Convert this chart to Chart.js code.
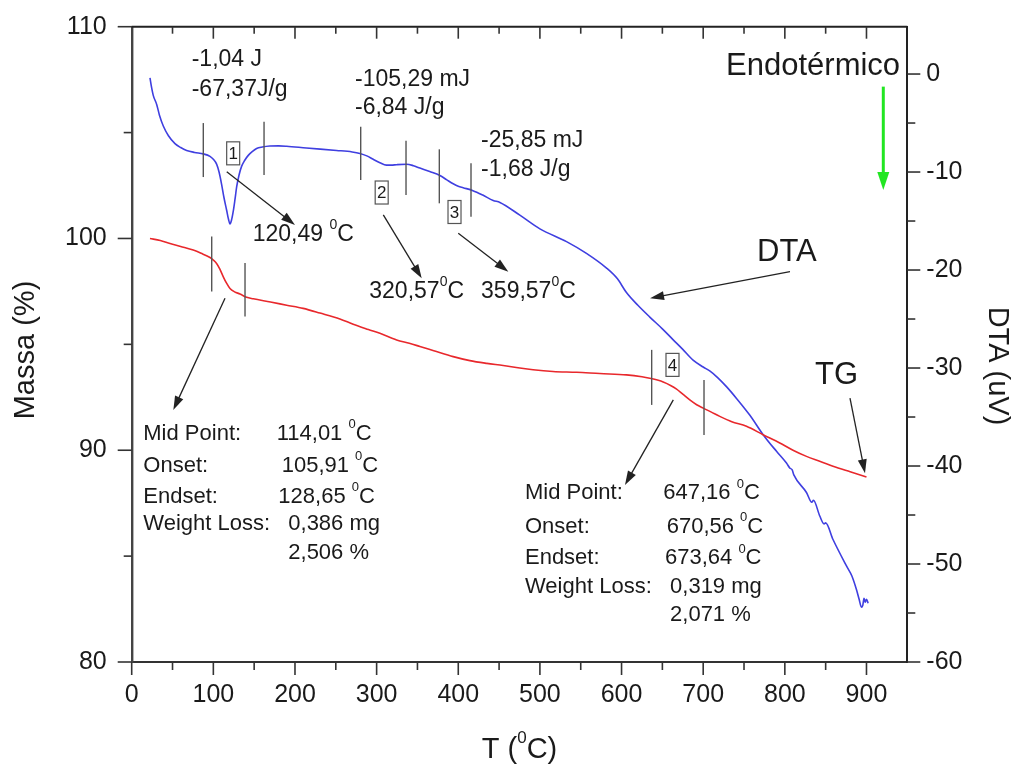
<!DOCTYPE html>
<html><head><meta charset="utf-8">
<script src="https://cdn.jsdelivr.net/npm/chart.js@4.4.1/dist/chart.umd.min.js"></script>
<style>html,body{margin:0;padding:0;background:#fff;}canvas{display:block;}</style>
</head><body>
<canvas id="c" width="1013" height="769"></canvas>
<script>
// ---- data ----
const xTicks = [0,100,200,300,400,500,600,700,800,900];
const massTicks = [80,90,100,110];
const dtaTicks = [-60,-50,-40,-30,-20,-10,0];

const dtaTemp = [22.4,24,26.5,30.6,34,38.7,45,53,60,67.3,77,87.7,95.9,100,104,107,110,113,116.3,118.5,120.4,122.3,124.4,126.5,128.6,131.5,134.7,138.5,142.8,148,153,160,169.3,180,189.8,214,251,270,279.5,288,295.8,304,312,318,324.5,336.7,345,353,365,377.5,386,393.8,400,406,418,430,442.8,451,475.4,500,532.6,557,581.6,595,606,620,634.6,650,663,675,687.6,700,708,718,728.5,740.8,757,773.4,789.8,802,806,809,811,826.5,833,835,842.8,848,850,859,875.5,882,887.7,891,893.8,895.5,897,898.5,900,902];
const dtaSignal = [-0.4,-1.2,-2.2,-3.1,-4.2,-5.3,-6.3,-7.1,-7.5,-7.8,-8.0,-8.15,-8.4,-8.7,-9.2,-10.0,-11.2,-12.6,-13.9,-14.8,-15.3,-14.9,-14.0,-12.8,-11.5,-10.3,-9.4,-8.8,-8.3,-7.9,-7.6,-7.45,-7.35,-7.33,-7.37,-7.55,-7.8,-7.95,-8.1,-8.35,-8.7,-9.05,-9.3,-9.3,-9.25,-9.2,-9.35,-9.6,-9.95,-10.35,-10.8,-11.2,-11.45,-11.6,-11.9,-12.35,-12.9,-13.1,-14.4,-15.8,-17.1,-18.3,-19.8,-20.9,-22.3,-23.6,-24.8,-26.0,-27.1,-28.1,-29.2,-29.9,-30.3,-31.0,-31.9,-33.1,-34.8,-36.8,-38.5,-39.7,-40.2,-40.4,-40.9,-42.7,-43.7,-43.5,-45.1,-45.9,-45.8,-47.5,-50.2,-51.2,-52.6,-53.6,-54.4,-54.2,-53.5,-53.9,-53.6,-54.0];

const tgTemp = [22.4,35,46.9,60,75.4,85,95.9,100,104,108,112.2,116,120.4,126,132.6,140.8,148.9,170,189.8,210,230.6,255,271.3,290,304,324.5,340,353,370,393.8,414.2,435,455,475.4,491.7,516,545,573.4,606,625,634.6,645,651,660,667,675,683.6,692,700,710,720.3,735,753,773.4,793.8,810,826.5,845,859,880,900];
const tgMass = [100.0,99.9,99.76,99.62,99.45,99.3,99.1,98.98,98.82,98.55,98.19,97.9,97.64,97.48,97.38,97.22,97.15,97.0,96.85,96.7,96.48,96.2,95.95,95.7,95.52,95.21,95.05,94.9,94.7,94.42,94.23,94.1,94.0,93.88,93.8,93.72,93.68,93.62,93.56,93.47,93.4,93.3,93.22,93.06,92.9,92.65,92.38,92.15,91.99,91.8,91.6,91.35,91.13,90.73,90.34,90.0,89.71,89.45,89.24,88.98,88.74];

// ---- annotations (data coordinates: T, Massa) ----
const smallTexts = [
  ['-1,04 J',73.5,108.43],['-67,37J/g',73.5,107.01],
  ['-105,29 mJ',273.5,107.48],['-6,84 J/g',273.5,106.16],
  ['-25,85 mJ',427.9,104.6],['-1,68 J/g',427.9,103.23],
  ['120,49 ^0C',148.2,100.17],['320,57^0C',291.0,97.47],['359,57^0C',427.9,97.47]
];
const bigTexts = [['Endotérmico',728.0,108.14],['DTA',765.9,99.34],['TG',837.0,93.52]];
const blockTexts = [
  ['Mid Point:',14.2,90.77],['Onset:',14.2,89.26],['Endset:',14.2,87.79],['Weight Loss:',14.2,86.52],
  ['114,01 ^0C',177.6,90.77],['105,91 ^0C',183.7,89.26],['128,65 ^0C',179.6,87.79],['0,386 mg',191.8,86.52],['2,506 %',191.8,85.15],
  ['Mid Point:',481.7,87.97],['Onset:',481.7,86.39],['Endset:',481.7,84.90],['Weight Loss:',481.7,83.56],
  ['647,16 ^0C',651.1,87.97],['670,56 ^0C',655.3,86.39],['673,64 ^0C',653.2,84.90],['0,319 mg',659.4,83.56],['2,071 %',659.4,82.22]
];
const boxes = [['1',124.3,104.02],['2',306.2,102.17],['3',395.4,101.25],['4',662.4,94.03]];
const markers = [[87.7,105.45,102.90],[162.1,105.51,103.00],[280.5,105.28,102.76],[336.0,104.62,102.05],[376.8,104.21,101.66],[415.6,103.55,101.03],[98.0,100.09,97.49],[138.8,98.84,96.31],[636.9,94.74,92.14],[701.0,93.32,90.72]];
const arrows = [[116.4,103.15,200.0,100.64],[308.2,101.11,355.2,98.12],[400.0,100.25,461.3,98.43],[114.3,97.18,50.95,91.90],[806.3,98.43,634.9,97.18],[879.8,92.46,898.2,88.91],[663.4,92.38,604.2,88.36]];
const greenArrow = [920.6,107.17,920.6,102.29];

// ---- drawing helpers ----
const FONT = "'Liberation Sans', Arial, Helvetica, sans-serif";
const TXT = '#1a1a1a';
function segs(str){const out=[];str.split('^0').forEach((p,i)=>{if(i>0)out.push({t:'0',sup:true});if(p)out.push({t:p,sup:false});});return out;}
function drawRich(ctx,str,x,y,size,align){
  const ss=segs(str);let w=0;
  ss.forEach(s=>{ctx.font=(s.sup?Math.round(size*0.6):size)+'px '+FONT;s.w=ctx.measureText(s.t).width;w+=s.w;});
  let cx=align==='center'?x-w/2:x;
  ctx.textAlign='left';ctx.textBaseline='middle';
  ss.forEach(s=>{ctx.font=(s.sup?Math.round(size*0.6):size)+'px '+FONT;ctx.fillText(s.t,cx,s.sup?y-size*0.42:y);cx+=s.w;});
}
function drawArrow(ctx,x1,y1,x2,y2,color,lw,hl,hw){
  const a=Math.atan2(y2-y1,x2-x1),c=Math.cos(a),s=Math.sin(a);
  ctx.strokeStyle=color;ctx.lineWidth=lw;ctx.beginPath();ctx.moveTo(x1,y1);ctx.lineTo(x2-c*hl*0.7,y2-s*hl*0.7);ctx.stroke();
  ctx.fillStyle=color;ctx.beginPath();ctx.moveTo(x2,y2);
  ctx.lineTo(x2-c*hl-s*hw/2,y2-s*hl+c*hw/2);ctx.lineTo(x2-c*hl+s*hw/2,y2-s*hl-c*hw/2);ctx.closePath();ctx.fill();
}

const decor = {
  id:'decor',
  afterDraw(chart){
    const ctx=chart.ctx, X=chart.scales.x, Y=chart.scales.y, Y1=chart.scales.y1, A=chart.chartArea;
    const px=v=>X.getPixelForValue(v), py=v=>Y.getPixelForValue(v);
    ctx.save();
    ctx.strokeStyle='#222';ctx.lineWidth=2;
    ctx.beginPath();ctx.moveTo(A.left,A.top);ctx.lineTo(A.right,A.top);ctx.stroke();
    ctx.lineWidth=1.6;ctx.strokeStyle='#333';
    for(let v=0;v<950;v+=50){const x=px(v),maj=v%100===0;
      ctx.beginPath();ctx.moveTo(x,A.bottom);ctx.lineTo(x,A.bottom+(maj?13:8));ctx.stroke();
      if(v>0){ctx.beginPath();ctx.moveTo(x,A.top);ctx.lineTo(x,A.top+(maj?12:7));ctx.stroke();}}
    for(let v=80;v<=110;v+=5){const y=py(v),maj=v%10===0;
      ctx.beginPath();ctx.moveTo(A.left-(maj?14:8),y);ctx.lineTo(A.left,y);ctx.stroke();}
    for(let v=-60;v<=0;v+=5){const y=Y1.getPixelForValue(v),maj=v%10===0;
      ctx.beginPath();ctx.moveTo(A.right,y);ctx.lineTo(A.right+(maj?13:8),y);ctx.stroke();}
    ctx.strokeStyle='#555';ctx.lineWidth=1.4;
    markers.forEach(m=>{ctx.beginPath();ctx.moveTo(px(m[0]),py(m[1]));ctx.lineTo(px(m[0]),py(m[2]));ctx.stroke();});
    arrows.forEach(a=>drawArrow(ctx,px(a[0]),py(a[1]),px(a[2]),py(a[3]),'#222',1.3,14,9));
    drawArrow(ctx,px(greenArrow[0]),py(greenArrow[1]),px(greenArrow[2]),py(greenArrow[3]),'#22e622',3,18,12);
    boxes.forEach(b=>{const x=px(b[1]),y=py(b[2]);ctx.strokeStyle='#555';ctx.lineWidth=1.2;ctx.strokeRect(x-6.5,y-11.5,13,23);
      ctx.fillStyle=TXT;ctx.font='17px '+FONT;ctx.textAlign='center';ctx.textBaseline='middle';ctx.fillText(b[0],x,y+1);});
    ctx.fillStyle=TXT;
    smallTexts.forEach(t=>drawRich(ctx,t[0],px(t[1]),py(t[2]),23,'left'));
    bigTexts.forEach(t=>drawRich(ctx,t[0],px(t[1]),py(t[2]),31,'left'));
    blockTexts.forEach(t=>drawRich(ctx,t[0],px(t[1]),py(t[2]),22,'left'));
    drawRich(ctx,'T (^0C)',(A.left+A.right)/2,750,29,'center');
    ctx.save();ctx.translate(26,350);ctx.rotate(-Math.PI/2);drawRich(ctx,'Massa (%)',0,0,29,'center');ctx.restore();
    ctx.save();ctx.translate(997,366);ctx.rotate(Math.PI/2);drawRich(ctx,'DTA (uV)',0,0,29,'center');ctx.restore();
    ctx.restore();
  }
};

function noPad(s){s.paddingTop=0;s.paddingBottom=0;s.paddingLeft=0;s.paddingRight=0;}
Chart.defaults.font.family = FONT;
const tickFont = {size:25};
new Chart(document.getElementById('c'), {
  type:'line',
  data:{datasets:[
    {label:'TG',data:tgTemp.map((t,i)=>({x:t,y:tgMass[i]})),yAxisID:'y',borderColor:'#e8282c',borderWidth:1.6,pointRadius:0,cubicInterpolationMode:'monotone'},
    {label:'DTA',data:dtaTemp.map((t,i)=>({x:t,y:dtaSignal[i]})),yAxisID:'y1',borderColor:'#3f3fe0',borderWidth:1.6,pointRadius:0,cubicInterpolationMode:'monotone'}
  ]},
  options:{
    responsive:false,animation:false,devicePixelRatio:1,
    layout:{padding:{top:26.7,left:0,right:0,bottom:0}},
    plugins:{legend:{display:false},tooltip:{enabled:false}},
    scales:{
      x:{type:'linear',position:'bottom',min:0,max:950,
        afterBuildTicks:s=>{s.ticks=xTicks.map(v=>({value:v}));},
        afterFit:s=>{s.height=107;noPad(s);},
        ticks:{font:tickFont,color:TXT,padding:18,maxRotation:0,autoSkip:false},
        grid:{display:false,drawTicks:false},border:{display:true,color:'#333',width:2}},
      y:{type:'linear',position:'left',min:80,max:110,
        afterBuildTicks:s=>{s.ticks=massTicks.map(v=>({value:v}));},
        afterFit:s=>{s.width=131.7;noPad(s);},
        ticks:{font:tickFont,color:TXT,padding:25},
        grid:{display:false,drawTicks:false},border:{display:true,color:'#444',width:2.4}},
      y1:{type:'linear',position:'right',min:-60,max:4.83,
        afterBuildTicks:s=>{s.ticks=dtaTicks.map(v=>({value:v}));},
        afterFit:s=>{s.width=105.7;noPad(s);},
        ticks:{font:tickFont,color:TXT,padding:19},
        grid:{display:false,drawTicks:false},border:{display:true,color:'#222',width:2}}
    }
  },
  plugins:[decor]
});
</script>
</body></html>
